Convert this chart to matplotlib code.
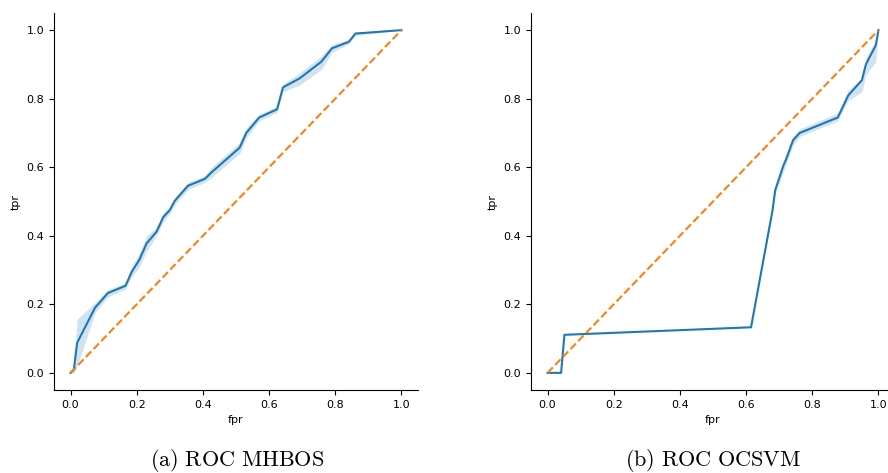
import numpy as np
import matplotlib
matplotlib.use('Agg')
import matplotlib.pyplot as plt

plt.rcParams['mathtext.fontset'] = 'cm'

# ROC MHBOS: fpr, mean tpr, band
fpr_a = [0.0, 0.01, 0.02, 0.074, 0.113, 0.166, 0.185, 0.208, 0.23, 0.26, 0.28, 0.30,
         0.315, 0.355, 0.406, 0.426, 0.511, 0.531, 0.57, 0.624, 0.642, 0.692, 0.758,
         0.79, 0.841, 0.861, 1.0]
tpr_a = [0.0, 0.01, 0.088, 0.19, 0.233, 0.254, 0.295, 0.33, 0.378, 0.412, 0.454, 0.475,
         0.502, 0.546, 0.566, 0.585, 0.657, 0.70, 0.745, 0.769, 0.833, 0.859, 0.908,
         0.947, 0.966, 0.99, 1.0]
lo_a = [0.0, 0.0, 0.02, 0.175, 0.222, 0.245, 0.28, 0.31, 0.355, 0.40, 0.44, 0.465,
        0.49, 0.535, 0.556, 0.57, 0.64, 0.685, 0.735, 0.76, 0.82, 0.84, 0.885,
        0.935, 0.96, 0.985, 1.0]
hi_a = [0.0, 0.02, 0.157, 0.205, 0.243, 0.263, 0.31, 0.35, 0.40, 0.425, 0.468, 0.485,
        0.512, 0.556, 0.576, 0.60, 0.672, 0.715, 0.755, 0.778, 0.843, 0.875, 0.925,
        0.958, 0.973, 0.995, 1.0]

# ROC OCSVM
fpr_b = [0.0, 0.041, 0.051, 0.615, 0.68, 0.688, 0.712, 0.722, 0.742, 0.762, 0.877,
         0.909, 0.95, 0.962, 0.992, 1.0]
tpr_b = [0.0, 0.0, 0.111, 0.133, 0.475, 0.533, 0.603, 0.626, 0.679, 0.70, 0.745,
         0.81, 0.854, 0.90, 0.956, 1.0]
lo_b = [0.0, 0.0, 0.111, 0.133, 0.47, 0.525, 0.585, 0.61, 0.665, 0.69, 0.735,
        0.795, 0.82, 0.87, 0.908, 1.0]
hi_b = [0.0, 0.0, 0.111, 0.133, 0.48, 0.54, 0.615, 0.64, 0.69, 0.712, 0.758,
        0.825, 0.86, 0.92, 0.97, 1.0]

ticks = [0.0, 0.2, 0.4, 0.6, 0.8, 1.0]
captions = [r'$\mathrm{(a)\ ROC\ MHBOS}$', r'$\mathrm{(b)\ ROC\ OCSVM}$']

fig = plt.figure(figsize=(8.88, 4.73), dpi=100)
ax1 = fig.add_axes([54 / 888, 83 / 473, 364 / 888, 377 / 473])
ax2 = fig.add_axes([531 / 888, 83 / 473, 364 / 888, 377 / 473])

data = [(fpr_a, tpr_a, lo_a, hi_a), (fpr_b, tpr_b, lo_b, hi_b)]
for ax, (x, y, lo, hi) in zip([ax1, ax2], data):
    ax.fill_between(x, lo, hi, color='#1f77b4', alpha=0.2, linewidth=0)
    ax.plot(x, y, color='#1f77b4', linewidth=1.5)
    ax.plot([0, 1], [0, 1], color='#ff7f0e', linestyle='--', linewidth=1.5)
    ax.set_xlim(-0.05, 1.05)
    ax.set_ylim(-0.05, 1.05)
    ax.set_xticks(ticks)
    ax.set_yticks(ticks)
    ax.tick_params(labelsize=8)
    ax.set_xlabel('fpr', fontsize=8)
    ax.set_ylabel('tpr', fontsize=8)
    ax.spines['top'].set_visible(False)
    ax.spines['right'].set_visible(False)

fig.text(237 / 888, 13 / 473, captions[0], ha='center', va='center', fontsize=16)
fig.text(713 / 888, 13 / 473, captions[1], ha='center', va='center', fontsize=16)

fig.savefig('out.png', dpi=100)
